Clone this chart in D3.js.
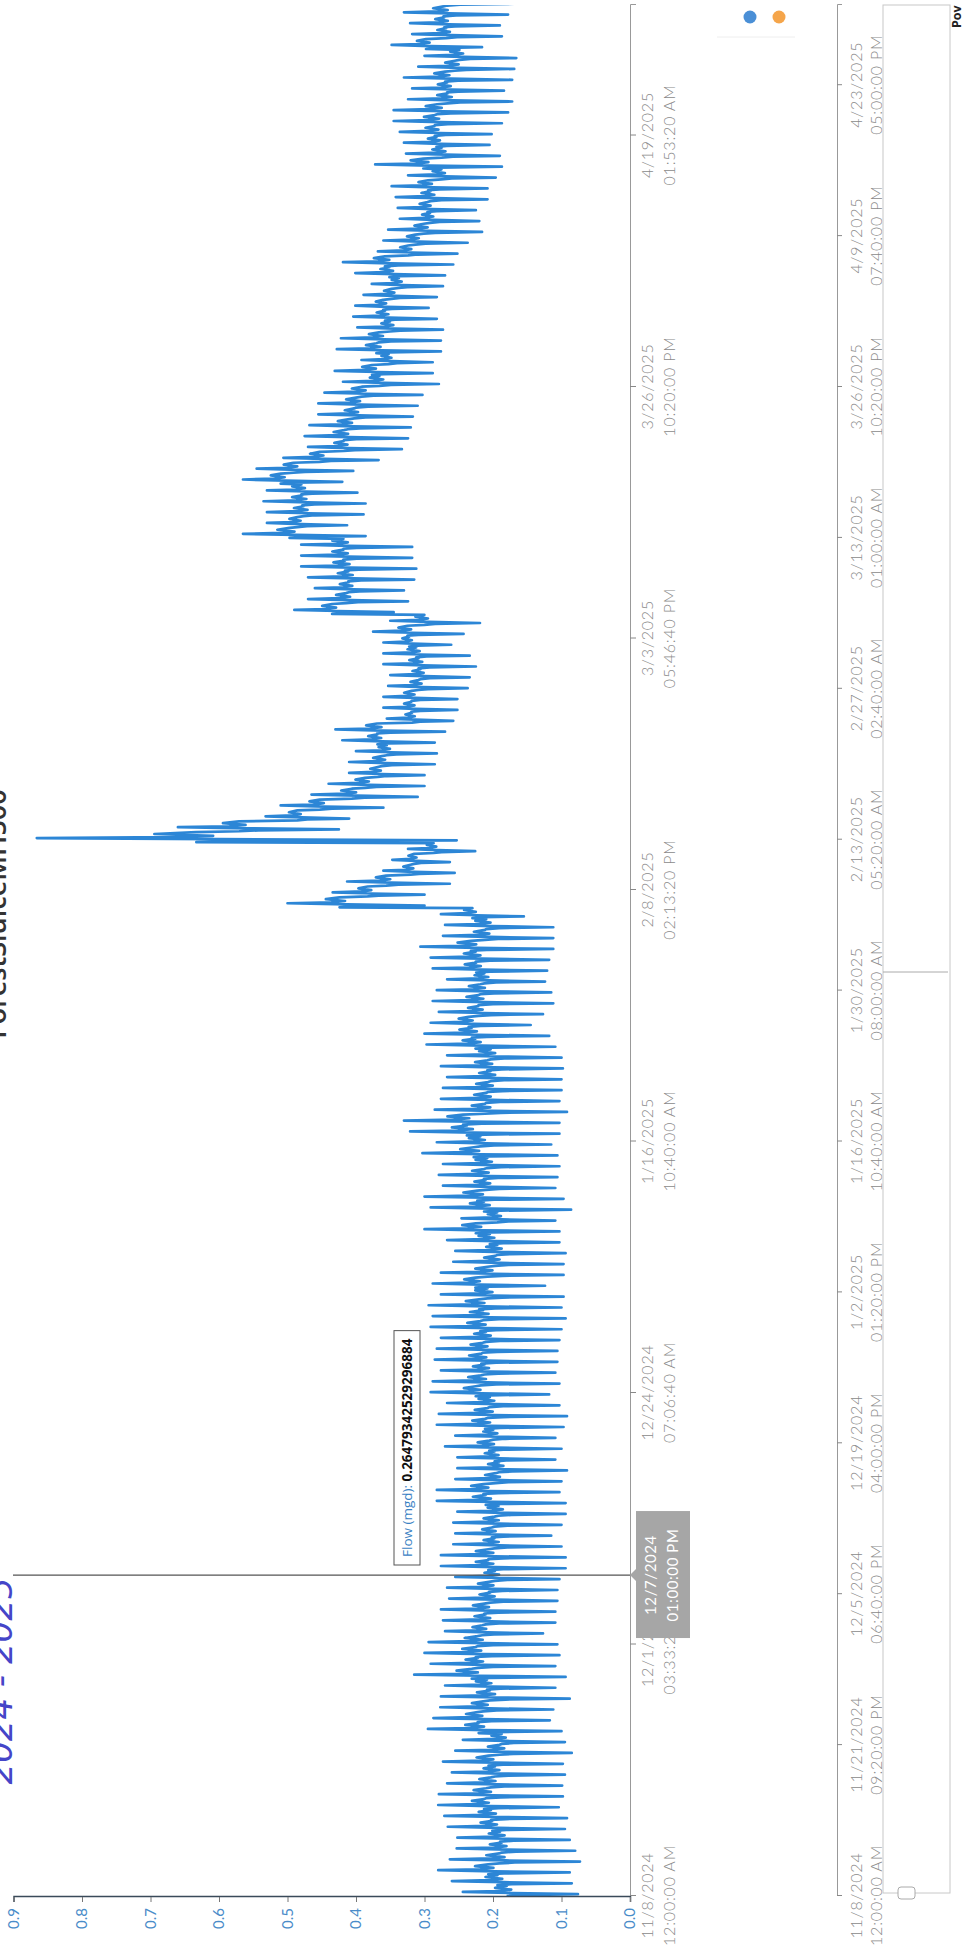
<!DOCTYPE html>
<html>
<head>
<meta charset="utf-8">
<script src="https://cdn.jsdelivr.net/npm/d3@7"></script>
<style>
  body { margin: 0; background: #fff; }
  svg { display: block; }
  .axisText { font-family: Lato, "Open Sans", sans-serif; font-weight: 300; font-size: 16px; fill: #8a8a8a; letter-spacing: 0.8px; }
</style>
</head>
<body>
<svg id="chart" width="965" height="1957"></svg>
<script>
// chart was printed sideways, so everything is drawn in the original (landscape)
// frame and then turned 90deg counter-clockwise onto the page
const titleText = "ForestSluiceMH500";
const noteText = "2024 - 2025";
const seriesName = "Flow (mgd)";

// daily minimum / maximum flow (mgd), one entry per day from 11/8/2024
const flowDailyLow = [
  .076,.085,.088,.073,.080,.088,.095,.092,.104,.098,.099,.095,.098,.085,.095,.100,.117,.112,
  .088,.109,.094,.109,.103,.106,.127,.109,.109,.106,.106,.103,.094,.094,.100,.115,.100,.094,.094,.103,.100,.092,.109,.100,.109,.097,.092,
  .103,.118,.103,.109,.106,.106,.103,.100,.094,.100,.097,.124,.097,.097,.094,.103,.103,.109,.086,.097,.109,.106,.103,.106,.115,.103,.103,.092,.103,.100,.100,.098,.100,.109,.118,.145,.127,.112,.115,.124,.121,.118,.112,.112,
  .112,.155,
  .300,.300,.263,.256,.263,.226,.253,
  .425,.410,.360,.310,.300,.300,.285,.282,.285,.270,.258,.252,.252,.237,.234,.225,.234,.261,.243,.219,.345,.324,.330,.315,.312,.318,.318,.386,.413,.389,.386,.398,.420,
  .404,.367,.333,.324,.320,.317,.310,.303,.279,.288,.288,.276,.276,.273,.282,.294,.282,.273,.270,.258,.252,.237,.216,.220,.225,.208,.208,.196,.187,.190,.205,.202,.187,.178,.172,.184,.172,.169,.166,.216,.187,.190,.178,.169
];
const flowDailyHigh = [
  .244,.260,.280,.263,.253,.252,.266,.271,.280,.279,.267,.260,.273,.255,.244,.295,.287,.277,
  .276,.270,.315,.291,.300,.294,.270,.273,.276,.264,.267,.255,.276,.276,.258,.255,.258,.252,.282,.282,.255,.252,.252,.270,.255,.282,.279,
  .267,.291,.288,.276,.285,.282,.276,.291,.288,.294,.276,.288,.276,.258,.255,.267,.300,.246,.291,.300,.273,.279,.273,.303,.282,.321,.330,.285,.276,.273,.267,.276,.267,.297,.300,.291,.279,.288,.282,.267,.288,.291,.306,.273,
  .270,.276,
  .500,.434,.413,.360,.347,.324,.866,
  .660,.532,.510,.465,.440,.410,.410,.400,.420,.430,.355,.360,.360,.353,.350,.360,.360,.360,.375,.350,.490,.470,.460,.470,.480,.480,.480,.565,.530,.530,.535,.530,.565,
  .545,.506,.470,.475,.468,.455,.455,.446,.419,.431,.392,.428,.422,.398,.404,.401,.389,.377,.401,.419,.368,.360,.353,.336,.339,.342,.348,.324,.372,.327,.330,.336,.345,.345,.324,.318,.330,.309,.300,.348,.318,.321,.330,.327
];

const flowTicks = [0, 0.1, 0.2, 0.3, 0.4, 0.5, 0.6, 0.7, 0.8, 0.9];
const mainTickLabels = [
  ["11/8/2024", "12:00:00 AM"], ["12/1/2024", "03:33:20 AM"], ["12/24/2024", "07:06:40 AM"],
  ["1/16/2025", "10:40:00 AM"], ["2/8/2025", "02:13:20 PM"], ["3/3/2025", "05:46:40 PM"],
  ["3/26/2025", "10:20:00 PM"], ["4/19/2025", "01:53:20 AM"]
];
const navTickLabels = [
  ["11/8/2024", "12:00:00 AM"], ["11/21/2024", "09:20:00 PM"], ["12/5/2024", "06:40:00 PM"],
  ["12/19/2024", "04:00:00 PM"], ["1/2/2025", "01:20:00 PM"], ["1/16/2025", "10:40:00 AM"],
  ["1/30/2025", "08:00:00 AM"], ["2/13/2025", "05:20:00 AM"], ["2/27/2025", "02:40:00 AM"],
  ["3/13/2025", "01:00:00 AM"], ["3/26/2025", "10:20:00 PM"], ["4/9/2025", "07:40:00 PM"],
  ["4/23/2025", "05:00:00 PM"]
];
const hoverTime = Date.UTC(2024, 11, 7, 18);   // 12/7/2024 01:00 PM local
const hoverLabel = ["12/7/2024", "01:00:00 PM"];
const hoverValue = "0.26479342529296884";

const DAY = 86400000;
const start = Date.UTC(2024, 10, 8, 5);        // 11/8/2024 00:00 local
const end = start + 174.05 * DAY;

// original frame: W x H landscape
const W = 1957, H = 965;
const svg = d3.select("#chart");
const g = svg.append("g").attr("transform", "translate(0," + W + ") rotate(-90)");

const x = d3.scaleTime().domain([new Date(start), new Date(end)]).range([61, 1952]);
const y = d3.scaleLinear().domain([0, 0.9]).range([630, 13.5]);

// title and hand note (both run off the edge of the page, as on the scan)
g.append("text")
  .attr("x", 1043).attr("y", 6)
  .attr("text-anchor", "middle")
  .style("font", "600 27px 'Open Sans', sans-serif")
  .style("fill", "#333")
  .text(titleText);

g.append("text")
  .attr("x", 276).attr("y", 12)
  .attr("text-anchor", "middle")
  .style("font", "italic 34px 'DejaVu Sans', sans-serif")
  .style("fill", "#4545c8")
  .text(noteText);

// daily pattern: night low, morning peak, long plateau
const pts = [];
flowDailyLow.forEach(function (lo, i) {
  const hi = flowDailyHigh[i];
  const mid = lo + 0.62 * (hi - lo);
  const r = hi - lo;
  const t0 = start + i * DAY;
  pts.push([t0, mid]);
  pts.push([t0 + 2 * 3600e3, mid - 0.12 * r]);
  pts.push([t0 + 4 * 3600e3, lo]);
  pts.push([t0 + 6.5 * 3600e3, mid - 0.05 * r]);
  pts.push([t0 + 9 * 3600e3, hi]);
  pts.push([t0 + 11 * 3600e3, mid + 0.06 * r]);
  pts.push([t0 + 14 * 3600e3, mid - 0.04 * r]);
  pts.push([t0 + 18 * 3600e3, mid + 0.1 * r]);
  pts.push([t0 + 22 * 3600e3, mid]);
});

g.append("clipPath").attr("id", "plotClip")
  .append("rect").attr("x", 61).attr("y", 0).attr("width", 1891).attr("height", 631);

const line = d3.line()
  .x(d => x(new Date(d[0])))
  .y(d => y(d[1]));

g.append("path")
  .datum(pts)
  .attr("clip-path", "url(#plotClip)")
  .attr("d", line)
  .attr("fill", "none")
  .attr("stroke", "#2c86d6")
  .attr("stroke-width", 2.7)
  .attr("stroke-linejoin", "round");

// flow axis
const yAxis = g.append("g")
  .attr("transform", "translate(60,0)")
  .call(d3.axisLeft(y).tickValues(flowTicks).tickFormat(d3.format(".1f")).tickSize(5).tickPadding(6));
yAxis.select(".domain").attr("stroke", "#3a4a5a").attr("stroke-width", 1.5);
yAxis.selectAll(".tick line").attr("stroke", "#777");
yAxis.selectAll(".tick text")
  .style("font", "15px Lato, 'Open Sans', sans-serif")
  .style("fill", "#4a8cc9");

// two-line date labels
function twoLineLabels(axisG, labels, dy1, dy2) {
  axisG.selectAll(".tick text").each(function (d, i) {
    const t = d3.select(this);
    t.text(null).attr("y", null).attr("dy", null).attr("class", "axisText");
    t.append("tspan").attr("x", 0).attr("y", dy1).text(labels[i][0]);
    t.append("tspan").attr("x", 0).attr("y", dy2).text(labels[i][1]);
  });
}

// main time axis
const mainTicks = mainTickLabels.map((d, i) => new Date(start + i * 2e9));
const xAxis = g.append("g")
  .attr("transform", "translate(0,630)")
  .call(d3.axisBottom(x).tickValues(mainTicks).tickSize(6));
xAxis.select(".domain").attr("stroke", "#999");
xAxis.selectAll(".tick line").attr("stroke", "#888");
twoLineLabels(xAxis, mainTickLabels, 23, 45);

// crosshair + tooltip
const hx = x(new Date(hoverTime));
g.append("line")
  .attr("x1", hx).attr("x2", hx).attr("y1", 13).attr("y2", 630)
  .attr("stroke", "#555").attr("stroke-width", 1.2);

const tip = g.append("g");
const tipText = tip.append("text")
  .attr("x", 400).attr("y", 412)
  .style("font", "13.5px 'Open Sans', sans-serif");
tipText.append("tspan").style("fill", "#3b82c4").text(seriesName + ": ");
tipText.append("tspan").style("fill", "#111").style("font-weight", "700").text(hoverValue);
const tw = tipText.node().getComputedTextLength();
tip.insert("rect", "text")
  .attr("x", 392).attr("y", 394).attr("width", tw + 16).attr("height", 26)
  .attr("fill", "#fff").attr("stroke", "#555").attr("stroke-width", 1);

const dateBox = g.append("g").attr("transform", "translate(" + hx + ",630)");
dateBox.append("path").attr("d", "M0,0 L-6,6 L6,6 Z").attr("fill", "#a6a6a6");
dateBox.append("rect")
  .attr("x", -63).attr("y", 6).attr("width", 127).attr("height", 54)
  .attr("fill", "#a6a6a6");
dateBox.append("text").attr("text-anchor", "middle").attr("y", 26)
  .style("font", "15px Lato, 'Open Sans', sans-serif").style("fill", "#fff").style("letter-spacing", "0.6px")
  .text(hoverLabel[0]);
dateBox.append("text").attr("text-anchor", "middle").attr("y", 48)
  .style("font", "15px Lato, 'Open Sans', sans-serif").style("fill", "#fff").style("letter-spacing", "0.6px")
  .text(hoverLabel[1]);

// navigator
const navTicks = navTickLabels.map((d, i) => new Date(start + i * 1.2e9));
const navAxis = g.append("g")
  .attr("transform", "translate(0,837)")
  .call(d3.axisBottom(x).tickValues(navTicks).tickSize(5));
navAxis.select(".domain").attr("stroke", "#999");
navAxis.selectAll(".tick line").attr("stroke", "#888");
twoLineLabels(navAxis, navTickLabels, 25, 45);

g.append("rect")
  .attr("x", 64).attr("y", 883).attr("width", 1888).attr("height", 67)
  .attr("fill", "none").attr("stroke", "#c8c8c8").attr("stroke-width", 1);
g.append("line")
  .attr("x1", 985).attr("x2", 985).attr("y1", 883).attr("y2", 948)
  .attr("stroke", "#aaa");
g.append("rect")
  .attr("x", 58).attr("y", 898).attr("width", 12).attr("height", 17).attr("rx", 3)
  .attr("fill", "#fff").attr("stroke", "#aaa");

// legend dots
g.append("circle").attr("cx", 1940).attr("cy", 750).attr("r", 6.5).attr("fill", "#4a8fd6");
g.append("circle").attr("cx", 1940).attr("cy", 779).attr("r", 6.5).attr("fill", "#f5a54a");
g.append("line").attr("x1", 1920).attr("x2", 1920).attr("y1", 717).attr("y2", 795)
  .attr("stroke", "#eee");

// what is left of the footer credit on the scan
g.append("text")
  .attr("x", 1929).attr("y", 961)
  .style("font", "700 12.5px 'Open Sans', sans-serif")
  .style("fill", "#222")
  .text("Pov");
</script>
</body>
</html>
